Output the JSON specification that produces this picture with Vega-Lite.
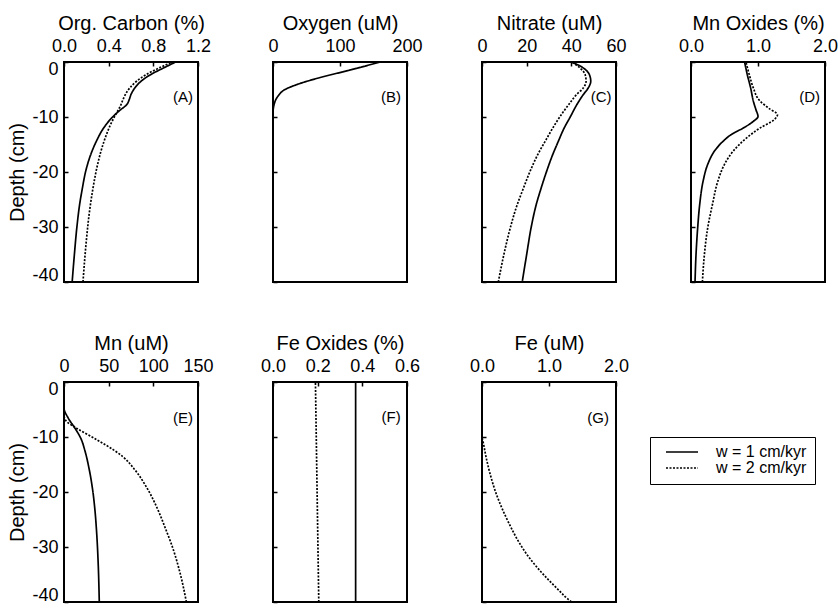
{
  "$schema": "https://vega.github.io/schema/vega-lite/v6.json",
  "background": "white",
  "padding": {"left": 6, "top": 12, "right": 0, "bottom": 0},
  "bounds": "flush",
  "columns": 4,
  "spacing": {"row": 100, "column": 75},
  "config": {
    "font": "Liberation Sans",
    "view": {"stroke": "black", "strokeWidth": 2},
    "axis": {"domain": false, "grid": false, "tickSize": -4, "tickColor": "black", "tickWidth": 1.5, "labelColor": "black", "titleColor": "black", "labelFont": "Liberation Sans", "titleFont": "Liberation Sans", "titleFontWeight": "normal"},
    "axisX": {"labelFontSize": 18, "labelPadding": 11, "titleFontSize": 20, "titlePadding": 4, "labelFlush": false},
    "axisY": {"labelFontSize": 18, "labelPadding": 10, "titleFontSize": 20, "titlePadding": 4, "labelFlush": true, "labelFlushOffset": 2, "labelExpr": "toString(datum.value)"},
    "text": {"font": "Liberation Sans", "fontSize": 15, "color": "black", "align": "right", "baseline": "middle"},
    "line": {"color": "black", "strokeWidth": 1.7, "orient": "horizontal", "interpolate": "monotone", "clip": true}
  },
  "datasets": {
    "A": [
      {"depth": 0, "value": 1.0, "rate": "w = 1 cm/kyr"},
      {"depth": -1.1, "value": 0.89, "rate": "w = 1 cm/kyr"},
      {"depth": -2.3, "value": 0.775, "rate": "w = 1 cm/kyr"},
      {"depth": -3.5, "value": 0.69, "rate": "w = 1 cm/kyr"},
      {"depth": -4.7, "value": 0.635, "rate": "w = 1 cm/kyr"},
      {"depth": -5.9, "value": 0.6, "rate": "w = 1 cm/kyr"},
      {"depth": -6.8, "value": 0.585, "rate": "w = 1 cm/kyr"},
      {"depth": -7.8, "value": 0.56, "rate": "w = 1 cm/kyr"},
      {"depth": -8.7, "value": 0.505, "rate": "w = 1 cm/kyr"},
      {"depth": -10, "value": 0.435, "rate": "w = 1 cm/kyr"},
      {"depth": -12, "value": 0.355, "rate": "w = 1 cm/kyr"},
      {"depth": -14.4, "value": 0.29, "rate": "w = 1 cm/kyr"},
      {"depth": -16.8, "value": 0.24, "rate": "w = 1 cm/kyr"},
      {"depth": -19.8, "value": 0.195, "rate": "w = 1 cm/kyr"},
      {"depth": -22.9, "value": 0.165, "rate": "w = 1 cm/kyr"},
      {"depth": -25.9, "value": 0.14, "rate": "w = 1 cm/kyr"},
      {"depth": -30.1, "value": 0.115, "rate": "w = 1 cm/kyr"},
      {"depth": -35, "value": 0.093, "rate": "w = 1 cm/kyr"},
      {"depth": -40, "value": 0.073, "rate": "w = 1 cm/kyr"},
      {"depth": 0, "value": 0.97, "rate": "w = 2 cm/kyr"},
      {"depth": -1.1, "value": 0.85, "rate": "w = 2 cm/kyr"},
      {"depth": -2.3, "value": 0.735, "rate": "w = 2 cm/kyr"},
      {"depth": -3.5, "value": 0.65, "rate": "w = 2 cm/kyr"},
      {"depth": -4.7, "value": 0.59, "rate": "w = 2 cm/kyr"},
      {"depth": -5.9, "value": 0.55, "rate": "w = 2 cm/kyr"},
      {"depth": -7.0, "value": 0.525, "rate": "w = 2 cm/kyr"},
      {"depth": -8.0, "value": 0.505, "rate": "w = 2 cm/kyr"},
      {"depth": -9.3, "value": 0.47, "rate": "w = 2 cm/kyr"},
      {"depth": -10.8, "value": 0.43, "rate": "w = 2 cm/kyr"},
      {"depth": -13.2, "value": 0.38, "rate": "w = 2 cm/kyr"},
      {"depth": -15.6, "value": 0.34, "rate": "w = 2 cm/kyr"},
      {"depth": -18.7, "value": 0.3, "rate": "w = 2 cm/kyr"},
      {"depth": -22.9, "value": 0.26, "rate": "w = 2 cm/kyr"},
      {"depth": -27.7, "value": 0.225, "rate": "w = 2 cm/kyr"},
      {"depth": -32.5, "value": 0.2, "rate": "w = 2 cm/kyr"},
      {"depth": -40, "value": 0.17, "rate": "w = 2 cm/kyr"}
    ],
    "B": [
      {"depth": 0, "value": 160, "rate": "w = 1 cm/kyr"},
      {"depth": -1.4, "value": 117, "rate": "w = 1 cm/kyr"},
      {"depth": -2.9, "value": 68, "rate": "w = 1 cm/kyr"},
      {"depth": -4.0, "value": 38, "rate": "w = 1 cm/kyr"},
      {"depth": -5.0, "value": 18, "rate": "w = 1 cm/kyr"},
      {"depth": -6.2, "value": 7.5, "rate": "w = 1 cm/kyr"},
      {"depth": -7.8, "value": 1.5, "rate": "w = 1 cm/kyr"},
      {"depth": -9.3, "value": 0, "rate": "w = 1 cm/kyr"},
      {"depth": -40, "value": 0, "rate": "w = 1 cm/kyr"}
    ],
    "C": [
      {"depth": 0, "value": 40.2, "rate": "w = 1 cm/kyr"},
      {"depth": -1.1, "value": 45.4, "rate": "w = 1 cm/kyr"},
      {"depth": -2.3, "value": 48.1, "rate": "w = 1 cm/kyr"},
      {"depth": -3.5, "value": 48.7, "rate": "w = 1 cm/kyr"},
      {"depth": -4.7, "value": 47.6, "rate": "w = 1 cm/kyr"},
      {"depth": -5.9, "value": 45.4, "rate": "w = 1 cm/kyr"},
      {"depth": -7.8, "value": 42.4, "rate": "w = 1 cm/kyr"},
      {"depth": -10, "value": 39.5, "rate": "w = 1 cm/kyr"},
      {"depth": -12, "value": 36.8, "rate": "w = 1 cm/kyr"},
      {"depth": -14.4, "value": 34.2, "rate": "w = 1 cm/kyr"},
      {"depth": -16.8, "value": 31.7, "rate": "w = 1 cm/kyr"},
      {"depth": -19.8, "value": 29.0, "rate": "w = 1 cm/kyr"},
      {"depth": -22.9, "value": 26.5, "rate": "w = 1 cm/kyr"},
      {"depth": -25.9, "value": 24.3, "rate": "w = 1 cm/kyr"},
      {"depth": -30.1, "value": 22.0, "rate": "w = 1 cm/kyr"},
      {"depth": -35, "value": 20.0, "rate": "w = 1 cm/kyr"},
      {"depth": -40, "value": 18.0, "rate": "w = 1 cm/kyr"},
      {"depth": 0, "value": 40.2, "rate": "w = 2 cm/kyr"},
      {"depth": -1.1, "value": 43.9, "rate": "w = 2 cm/kyr"},
      {"depth": -2.3, "value": 46.2, "rate": "w = 2 cm/kyr"},
      {"depth": -3.5, "value": 46.6, "rate": "w = 2 cm/kyr"},
      {"depth": -4.7, "value": 45.4, "rate": "w = 2 cm/kyr"},
      {"depth": -5.9, "value": 42.4, "rate": "w = 2 cm/kyr"},
      {"depth": -7.8, "value": 38.7, "rate": "w = 2 cm/kyr"},
      {"depth": -10, "value": 34.8, "rate": "w = 2 cm/kyr"},
      {"depth": -12, "value": 31.7, "rate": "w = 2 cm/kyr"},
      {"depth": -14.4, "value": 28.3, "rate": "w = 2 cm/kyr"},
      {"depth": -16.8, "value": 25.0, "rate": "w = 2 cm/kyr"},
      {"depth": -19.8, "value": 21.6, "rate": "w = 2 cm/kyr"},
      {"depth": -22.9, "value": 18.6, "rate": "w = 2 cm/kyr"},
      {"depth": -25.9, "value": 15.8, "rate": "w = 2 cm/kyr"},
      {"depth": -30.1, "value": 12.7, "rate": "w = 2 cm/kyr"},
      {"depth": -35, "value": 9.8, "rate": "w = 2 cm/kyr"},
      {"depth": -40, "value": 7.3, "rate": "w = 2 cm/kyr"}
    ],
    "D": [
      {"depth": 0, "value": 0.8, "rate": "w = 1 cm/kyr"},
      {"depth": -2.3, "value": 0.84, "rate": "w = 1 cm/kyr"},
      {"depth": -4.7, "value": 0.89, "rate": "w = 1 cm/kyr"},
      {"depth": -7.1, "value": 0.93, "rate": "w = 1 cm/kyr"},
      {"depth": -8.7, "value": 0.97, "rate": "w = 1 cm/kyr"},
      {"depth": -9.9, "value": 1.0, "rate": "w = 1 cm/kyr"},
      {"depth": -10.8, "value": 0.93, "rate": "w = 1 cm/kyr"},
      {"depth": -12, "value": 0.78, "rate": "w = 1 cm/kyr"},
      {"depth": -13.2, "value": 0.6, "rate": "w = 1 cm/kyr"},
      {"depth": -14.4, "value": 0.48, "rate": "w = 1 cm/kyr"},
      {"depth": -16.2, "value": 0.35, "rate": "w = 1 cm/kyr"},
      {"depth": -18.6, "value": 0.25, "rate": "w = 1 cm/kyr"},
      {"depth": -21.7, "value": 0.18, "rate": "w = 1 cm/kyr"},
      {"depth": -25.9, "value": 0.13, "rate": "w = 1 cm/kyr"},
      {"depth": -30.1, "value": 0.1, "rate": "w = 1 cm/kyr"},
      {"depth": -35, "value": 0.075, "rate": "w = 1 cm/kyr"},
      {"depth": -40, "value": 0.06, "rate": "w = 1 cm/kyr"},
      {"depth": 0, "value": 0.82, "rate": "w = 2 cm/kyr"},
      {"depth": -2.3, "value": 0.87, "rate": "w = 2 cm/kyr"},
      {"depth": -4.7, "value": 0.93, "rate": "w = 2 cm/kyr"},
      {"depth": -7.1, "value": 1.03, "rate": "w = 2 cm/kyr"},
      {"depth": -8.4, "value": 1.16, "rate": "w = 2 cm/kyr"},
      {"depth": -9.6, "value": 1.29, "rate": "w = 2 cm/kyr"},
      {"depth": -10.5, "value": 1.24, "rate": "w = 2 cm/kyr"},
      {"depth": -12, "value": 1.03, "rate": "w = 2 cm/kyr"},
      {"depth": -13.8, "value": 0.83, "rate": "w = 2 cm/kyr"},
      {"depth": -16.2, "value": 0.63, "rate": "w = 2 cm/kyr"},
      {"depth": -18.6, "value": 0.5, "rate": "w = 2 cm/kyr"},
      {"depth": -21.7, "value": 0.4, "rate": "w = 2 cm/kyr"},
      {"depth": -25.9, "value": 0.32, "rate": "w = 2 cm/kyr"},
      {"depth": -30.1, "value": 0.25, "rate": "w = 2 cm/kyr"},
      {"depth": -35, "value": 0.2, "rate": "w = 2 cm/kyr"},
      {"depth": -40, "value": 0.17, "rate": "w = 2 cm/kyr"}
    ],
    "E": [
      {"depth": 0, "value": 0, "rate": "w = 1 cm/kyr"},
      {"depth": -4.7, "value": 0, "rate": "w = 1 cm/kyr"},
      {"depth": -6.6, "value": 4.9, "rate": "w = 1 cm/kyr"},
      {"depth": -8.4, "value": 12.3, "rate": "w = 1 cm/kyr"},
      {"depth": -10.2, "value": 18.7, "rate": "w = 1 cm/kyr"},
      {"depth": -12.6, "value": 23.6, "rate": "w = 1 cm/kyr"},
      {"depth": -15.7, "value": 28, "rate": "w = 1 cm/kyr"},
      {"depth": -19.3, "value": 31.8, "rate": "w = 1 cm/kyr"},
      {"depth": -22.9, "value": 34.4, "rate": "w = 1 cm/kyr"},
      {"depth": -27.8, "value": 36.7, "rate": "w = 1 cm/kyr"},
      {"depth": -32.7, "value": 38.2, "rate": "w = 1 cm/kyr"},
      {"depth": -40, "value": 39.5, "rate": "w = 1 cm/kyr"},
      {"depth": 0, "value": 0, "rate": "w = 2 cm/kyr"},
      {"depth": -6.0, "value": 0, "rate": "w = 2 cm/kyr"},
      {"depth": -7.0, "value": 2, "rate": "w = 2 cm/kyr"},
      {"depth": -8.4, "value": 14, "rate": "w = 2 cm/kyr"},
      {"depth": -10.5, "value": 36.7, "rate": "w = 2 cm/kyr"},
      {"depth": -12.3, "value": 55, "rate": "w = 2 cm/kyr"},
      {"depth": -13.6, "value": 66, "rate": "w = 2 cm/kyr"},
      {"depth": -16, "value": 79.5, "rate": "w = 2 cm/kyr"},
      {"depth": -19.3, "value": 93, "rate": "w = 2 cm/kyr"},
      {"depth": -23, "value": 104.5, "rate": "w = 2 cm/kyr"},
      {"depth": -26.6, "value": 113.5, "rate": "w = 2 cm/kyr"},
      {"depth": -30.3, "value": 122, "rate": "w = 2 cm/kyr"},
      {"depth": -35.1, "value": 130.5, "rate": "w = 2 cm/kyr"},
      {"depth": -40, "value": 137, "rate": "w = 2 cm/kyr"}
    ],
    "F": [
      {"depth": 0, "value": 0.37, "rate": "w = 1 cm/kyr"},
      {"depth": -40, "value": 0.37, "rate": "w = 1 cm/kyr"},
      {"depth": 0, "value": 0.19, "rate": "w = 2 cm/kyr"},
      {"depth": -40, "value": 0.205, "rate": "w = 2 cm/kyr"}
    ],
    "G": [
      {"depth": 0, "value": 0, "rate": "w = 1 cm/kyr"},
      {"depth": -40, "value": 0, "rate": "w = 1 cm/kyr"},
      {"depth": 0, "value": 0, "rate": "w = 2 cm/kyr"},
      {"depth": -10, "value": 0, "rate": "w = 2 cm/kyr"},
      {"depth": -10.8, "value": 0.015, "rate": "w = 2 cm/kyr"},
      {"depth": -13.9, "value": 0.065, "rate": "w = 2 cm/kyr"},
      {"depth": -16.9, "value": 0.125, "rate": "w = 2 cm/kyr"},
      {"depth": -19.9, "value": 0.2, "rate": "w = 2 cm/kyr"},
      {"depth": -23, "value": 0.3, "rate": "w = 2 cm/kyr"},
      {"depth": -26, "value": 0.415, "rate": "w = 2 cm/kyr"},
      {"depth": -29.1, "value": 0.55, "rate": "w = 2 cm/kyr"},
      {"depth": -32.1, "value": 0.715, "rate": "w = 2 cm/kyr"},
      {"depth": -35.1, "value": 0.925, "rate": "w = 2 cm/kyr"},
      {"depth": -37.6, "value": 1.125, "rate": "w = 2 cm/kyr"},
      {"depth": -39.4, "value": 1.275, "rate": "w = 2 cm/kyr"},
      {"depth": -40, "value": 1.335, "rate": "w = 2 cm/kyr"}
    ]
  },
  "concat": [
    {
      "width": 134, "height": 220,
      "layer": [
        {
          "data": {"name": "A"},
          "mark": {"type": "line"},
          "encoding": {
            "x": {"field": "value", "type": "quantitative", "scale": {"domain": [0, 1.2], "nice": false, "zero": false},
                  "axis": {"orient": "top", "title": "Org. Carbon (%)", "values": [0, 0.2, 0.4, 0.6, 0.8, 1.0, 1.2], "format": ".1f", "labelExpr": "round(datum.value * 10) % 4 == 0 ? datum.label : ''"}},
            "y": {"field": "depth", "type": "quantitative", "scale": {"domain": [-40, 0], "nice": false},
                  "axis": {"title": "Depth (cm)", "values": [-40, -30, -20, -10, 0]}},
            "order": {"field": "depth", "type": "quantitative"},
            "strokeDash": {"field": "rate", "type": "nominal",
                  "scale": {"domain": ["w = 1 cm/kyr", "w = 2 cm/kyr"], "range": [[1, 0], [2, 1.5]]},
                  "legend": {"orient": "none", "legendX": 586, "legendY": 375, "title": null, "symbolType": "stroke", "symbolSize": 1024, "symbolStrokeWidth": 1.7, "symbolStrokeColor": "black", "clipHeight": 14, "rowPadding": 0, "labelFontSize": 16, "labelFont": "Liberation Sans", "labelColor": "black", "labelOffset": 17, "labelExpr": "datum.label + '      '", "padding": 8, "symbolOffset": 7, "strokeColor": "black", "fillColor": "white", "cornerRadius": 0}}
          }
        },
        {
          "data": {"values": [{"label": "(A)"}]},
          "mark": {"type": "text"},
          "encoding": {
            "x": {"datum": 1.155, "type": "quantitative"},
            "y": {"datum": -6.4, "type": "quantitative"},
            "text": {"field": "label"}
          }
        }
      ]
    },
    {
      "width": 134, "height": 220,
      "layer": [
        {
          "data": {"name": "B"},
          "mark": {"type": "line"},
          "encoding": {
            "x": {"field": "value", "type": "quantitative", "scale": {"domain": [0, 200], "nice": false, "zero": false},
                  "axis": {"orient": "top", "title": "Oxygen (uM)", "values": [0, 100, 200]}},
            "y": {"field": "depth", "type": "quantitative", "scale": {"domain": [-40, 0], "nice": false},
                  "axis": {"title": null, "labels": false, "values": [-40, -30, -20, -10, 0]}},
            "order": {"field": "depth", "type": "quantitative"},
            "strokeDash": {"field": "rate", "type": "nominal",
                  "scale": {"domain": ["w = 1 cm/kyr", "w = 2 cm/kyr"], "range": [[1, 0], [2, 1.5]]},
                  "legend": {"orient": "none", "legendX": 586, "legendY": 375, "title": null, "symbolType": "stroke", "symbolSize": 1024, "symbolStrokeWidth": 1.7, "symbolStrokeColor": "black", "clipHeight": 14, "rowPadding": 0, "labelFontSize": 16, "labelFont": "Liberation Sans", "labelColor": "black", "labelOffset": 17, "labelExpr": "datum.label + '      '", "padding": 8, "symbolOffset": 7, "strokeColor": "black", "fillColor": "white", "cornerRadius": 0}}
          }
        },
        {
          "data": {"values": [{"label": "(B)"}]},
          "mark": {"type": "text"},
          "encoding": {
            "x": {"datum": 191, "type": "quantitative"},
            "y": {"datum": -6.4, "type": "quantitative"},
            "text": {"field": "label"}
          }
        }
      ]
    },
    {
      "width": 134, "height": 220,
      "layer": [
        {
          "data": {"name": "C"},
          "mark": {"type": "line"},
          "encoding": {
            "x": {"field": "value", "type": "quantitative", "scale": {"domain": [0, 60], "nice": false, "zero": false},
                  "axis": {"orient": "top", "title": "Nitrate (uM)", "values": [0, 20, 40, 60]}},
            "y": {"field": "depth", "type": "quantitative", "scale": {"domain": [-40, 0], "nice": false},
                  "axis": {"title": null, "labels": false, "values": [-40, -30, -20, -10, 0]}},
            "order": {"field": "depth", "type": "quantitative"},
            "strokeDash": {"field": "rate", "type": "nominal",
                  "scale": {"domain": ["w = 1 cm/kyr", "w = 2 cm/kyr"], "range": [[1, 0], [2, 1.5]]},
                  "legend": {"orient": "none", "legendX": 586, "legendY": 375, "title": null, "symbolType": "stroke", "symbolSize": 1024, "symbolStrokeWidth": 1.7, "symbolStrokeColor": "black", "clipHeight": 14, "rowPadding": 0, "labelFontSize": 16, "labelFont": "Liberation Sans", "labelColor": "black", "labelOffset": 17, "labelExpr": "datum.label + '      '", "padding": 8, "symbolOffset": 7, "strokeColor": "black", "fillColor": "white", "cornerRadius": 0}}
          }
        },
        {
          "data": {"values": [{"label": "(C)"}]},
          "mark": {"type": "text"},
          "encoding": {
            "x": {"datum": 58, "type": "quantitative"},
            "y": {"datum": -6.4, "type": "quantitative"},
            "text": {"field": "label"}
          }
        }
      ]
    },
    {
      "width": 134, "height": 220,
      "layer": [
        {
          "data": {"name": "D"},
          "mark": {"type": "line"},
          "encoding": {
            "x": {"field": "value", "type": "quantitative", "scale": {"domain": [0, 2], "nice": false, "zero": false},
                  "axis": {"orient": "top", "title": "Mn Oxides (%)", "values": [0, 0.5, 1, 1.5, 2], "format": ".1f", "labelExpr": "datum.value % 1 == 0 ? datum.label : ''"}},
            "y": {"field": "depth", "type": "quantitative", "scale": {"domain": [-40, 0], "nice": false},
                  "axis": {"title": null, "labels": false, "values": [-40, -30, -20, -10, 0]}},
            "order": {"field": "depth", "type": "quantitative"},
            "strokeDash": {"field": "rate", "type": "nominal",
                  "scale": {"domain": ["w = 1 cm/kyr", "w = 2 cm/kyr"], "range": [[1, 0], [2, 1.5]]},
                  "legend": {"orient": "none", "legendX": 586, "legendY": 375, "title": null, "symbolType": "stroke", "symbolSize": 1024, "symbolStrokeWidth": 1.7, "symbolStrokeColor": "black", "clipHeight": 14, "rowPadding": 0, "labelFontSize": 16, "labelFont": "Liberation Sans", "labelColor": "black", "labelOffset": 17, "labelExpr": "datum.label + '      '", "padding": 8, "symbolOffset": 7, "strokeColor": "black", "fillColor": "white", "cornerRadius": 0}}
          }
        },
        {
          "data": {"values": [{"label": "(D)"}]},
          "mark": {"type": "text"},
          "encoding": {
            "x": {"datum": 1.925, "type": "quantitative"},
            "y": {"datum": -6.4, "type": "quantitative"},
            "text": {"field": "label"}
          }
        }
      ]
    },
    {
      "width": 134, "height": 220,
      "layer": [
        {
          "data": {"name": "E"},
          "mark": {"type": "line"},
          "encoding": {
            "x": {"field": "value", "type": "quantitative", "scale": {"domain": [0, 150], "nice": false, "zero": false},
                  "axis": {"orient": "top", "title": "Mn (uM)", "values": [0, 50, 100, 150]}},
            "y": {"field": "depth", "type": "quantitative", "scale": {"domain": [-40, 0], "nice": false},
                  "axis": {"title": "Depth (cm)", "values": [-40, -30, -20, -10, 0]}},
            "order": {"field": "depth", "type": "quantitative"},
            "strokeDash": {"field": "rate", "type": "nominal",
                  "scale": {"domain": ["w = 1 cm/kyr", "w = 2 cm/kyr"], "range": [[1, 0], [2, 1.5]]},
                  "legend": {"orient": "none", "legendX": 586, "legendY": 375, "title": null, "symbolType": "stroke", "symbolSize": 1024, "symbolStrokeWidth": 1.7, "symbolStrokeColor": "black", "clipHeight": 14, "rowPadding": 0, "labelFontSize": 16, "labelFont": "Liberation Sans", "labelColor": "black", "labelOffset": 17, "labelExpr": "datum.label + '      '", "padding": 8, "symbolOffset": 7, "strokeColor": "black", "fillColor": "white", "cornerRadius": 0}}
          }
        },
        {
          "data": {"values": [{"label": "(E)"}]},
          "mark": {"type": "text"},
          "encoding": {
            "x": {"datum": 144.4, "type": "quantitative"},
            "y": {"datum": -6.6, "type": "quantitative"},
            "text": {"field": "label"}
          }
        }
      ]
    },
    {
      "width": 134, "height": 220,
      "layer": [
        {
          "data": {"name": "F"},
          "mark": {"type": "line"},
          "encoding": {
            "x": {"field": "value", "type": "quantitative", "scale": {"domain": [0, 0.6], "nice": false, "zero": false},
                  "axis": {"orient": "top", "title": "Fe Oxides (%)", "values": [0, 0.2, 0.4, 0.6], "format": ".1f"}},
            "y": {"field": "depth", "type": "quantitative", "scale": {"domain": [-40, 0], "nice": false},
                  "axis": {"title": null, "labels": false, "values": [-40, -30, -20, -10, 0]}},
            "order": {"field": "depth", "type": "quantitative"},
            "strokeDash": {"field": "rate", "type": "nominal",
                  "scale": {"domain": ["w = 1 cm/kyr", "w = 2 cm/kyr"], "range": [[1, 0], [2, 1.5]]},
                  "legend": {"orient": "none", "legendX": 586, "legendY": 375, "title": null, "symbolType": "stroke", "symbolSize": 1024, "symbolStrokeWidth": 1.7, "symbolStrokeColor": "black", "clipHeight": 14, "rowPadding": 0, "labelFontSize": 16, "labelFont": "Liberation Sans", "labelColor": "black", "labelOffset": 17, "labelExpr": "datum.label + '      '", "padding": 8, "symbolOffset": 7, "strokeColor": "black", "fillColor": "white", "cornerRadius": 0}}
          }
        },
        {
          "data": {"values": [{"label": "(F)"}]},
          "mark": {"type": "text"},
          "encoding": {
            "x": {"datum": 0.572, "type": "quantitative"},
            "y": {"datum": -6.3, "type": "quantitative"},
            "text": {"field": "label"}
          }
        }
      ]
    },
    {
      "width": 134, "height": 220,
      "layer": [
        {
          "data": {"name": "G"},
          "mark": {"type": "line"},
          "encoding": {
            "x": {"field": "value", "type": "quantitative", "scale": {"domain": [0, 2], "nice": false, "zero": false},
                  "axis": {"orient": "top", "title": "Fe (uM)", "values": [0, 0.5, 1, 1.5, 2], "format": ".1f", "labelExpr": "datum.value % 1 == 0 ? datum.label : ''"}},
            "y": {"field": "depth", "type": "quantitative", "scale": {"domain": [-40, 0], "nice": false},
                  "axis": {"title": null, "labels": false, "values": [-40, -30, -20, -10, 0]}},
            "order": {"field": "depth", "type": "quantitative"},
            "strokeDash": {"field": "rate", "type": "nominal",
                  "scale": {"domain": ["w = 1 cm/kyr", "w = 2 cm/kyr"], "range": [[1, 0], [2, 1.5]]},
                  "legend": {"orient": "none", "legendX": 586, "legendY": 375, "title": null, "symbolType": "stroke", "symbolSize": 1024, "symbolStrokeWidth": 1.7, "symbolStrokeColor": "black", "clipHeight": 14, "rowPadding": 0, "labelFontSize": 16, "labelFont": "Liberation Sans", "labelColor": "black", "labelOffset": 17, "labelExpr": "datum.label + '      '", "padding": 8, "symbolOffset": 7, "strokeColor": "black", "fillColor": "white", "cornerRadius": 0}}
          }
        },
        {
          "data": {"values": [{"label": "(G)"}]},
          "mark": {"type": "text"},
          "encoding": {
            "x": {"datum": 1.896, "type": "quantitative"},
            "y": {"datum": -6.6, "type": "quantitative"},
            "text": {"field": "label"}
          }
        }
      ]
    }
  ]
}
